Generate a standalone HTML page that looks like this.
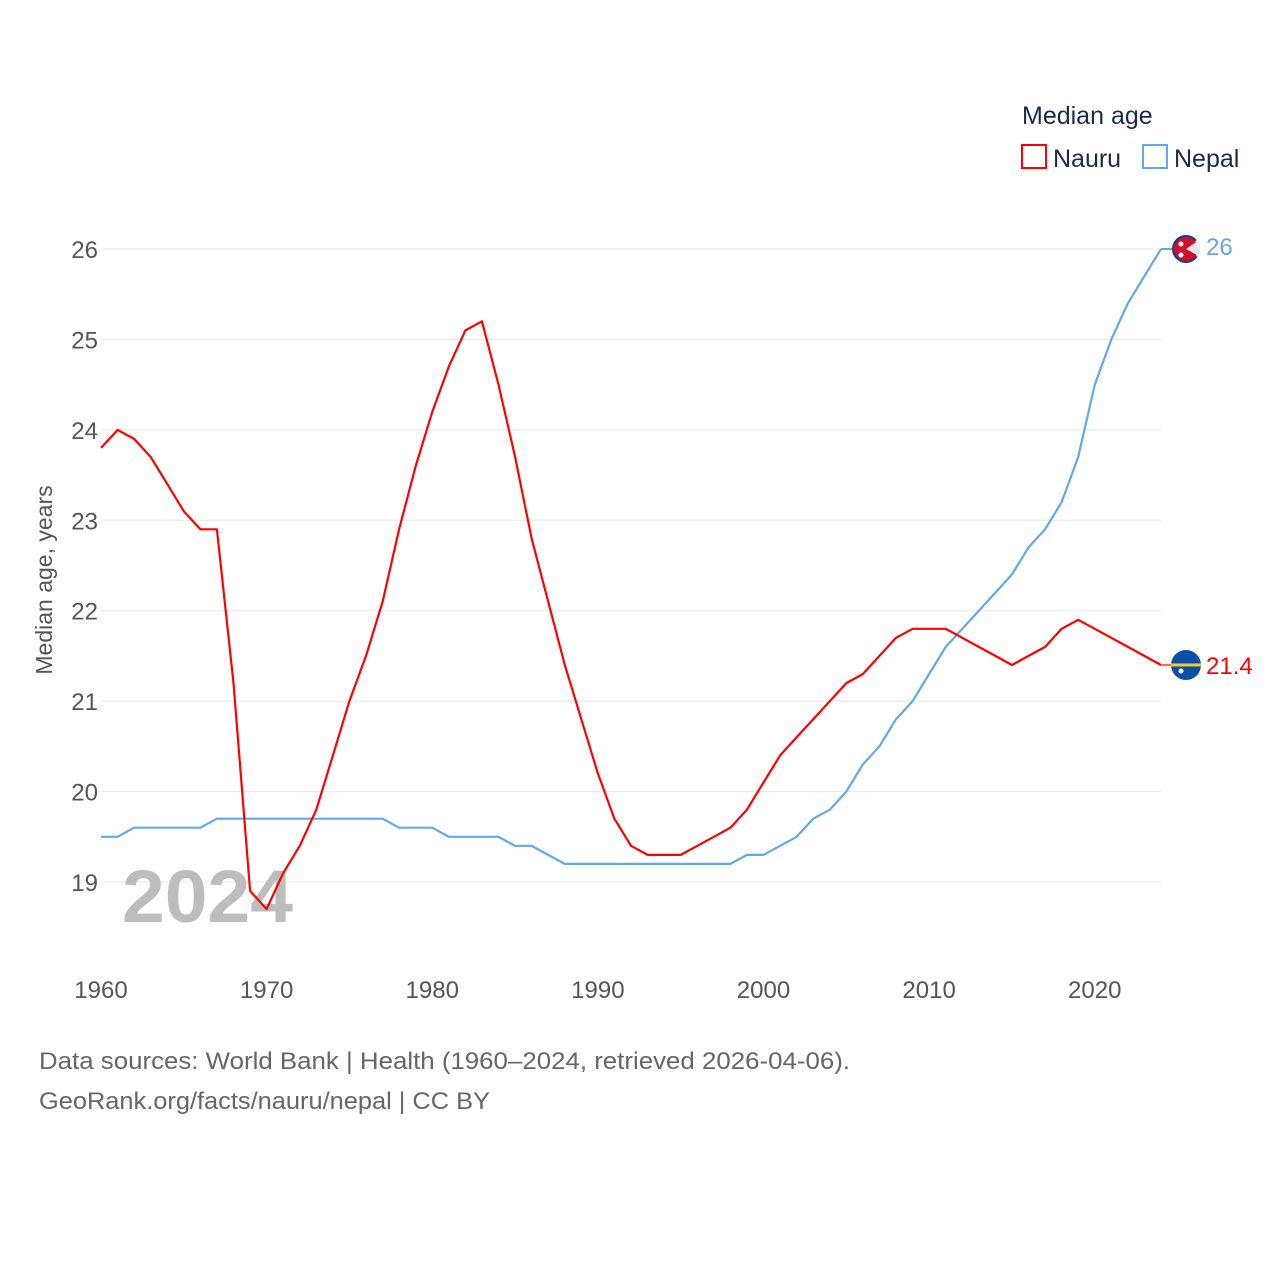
<!DOCTYPE html>
<html><head><meta charset="utf-8"><style>
html,body{margin:0;padding:0;background:#fff;}
svg text{font-family:"Liberation Sans",sans-serif;}
</style></head><body>
<svg id="chart" width="1280" height="1280" xmlns="http://www.w3.org/2000/svg">
<rect width="1280" height="1280" fill="#fff"/>
<g id="grid"></g>
<g id="yticks"></g>
<g id="xticks"></g>
<text transform="translate(52,580) rotate(-90)" text-anchor="middle" font-size="23" fill="#555">Median age, years</text>
<text x="122" y="922" font-size="74" font-weight="bold" fill="#bdbdbd" textLength="171" lengthAdjust="spacingAndGlyphs">2024</text>
<g id="lines"></g>
<g>
<text x="1022" y="124" font-size="25" fill="#1a2a48">Median age</text>
<rect x="1022" y="145" width="24" height="23" fill="none" stroke="#ff0000" stroke-width="2"/>
<text x="1053" y="167" font-size="25" fill="#1a2a48">Nauru</text>
<rect x="1143" y="145" width="24" height="23" fill="none" stroke="#62a8ea" stroke-width="2"/>
<text x="1174" y="167" font-size="25" fill="#1a2a48">Nepal</text>
</g>
<g id="ends"></g>
<text x="39" y="1069" font-size="24" fill="#666" textLength="811" lengthAdjust="spacingAndGlyphs">Data sources: World Bank | Health (1960–2024, retrieved 2026-04-06).</text>
<text x="39" y="1109" font-size="24" fill="#666" textLength="451" lengthAdjust="spacingAndGlyphs">GeoRank.org/facts/nauru/nepal | CC BY</text>
</svg>
<script>
const years = [];
for (let y = 1960; y <= 2024; y++) years.push(y);
const nauru = [23.8,24.0,23.9,23.7,23.4,23.1,22.9,22.9,21.2,18.9,18.7,19.1,19.4,19.8,20.4,21.0,21.5,22.1,22.9,23.6,24.2,24.7,25.1,25.2,24.5,23.7,22.8,22.1,21.4,20.8,20.2,19.7,19.4,19.3,19.3,19.3,19.4,19.5,19.6,19.8,20.1,20.4,20.6,20.8,21.0,21.2,21.3,21.5,21.7,21.8,21.8,21.8,21.7,21.6,21.5,21.4,21.5,21.6,21.8,21.9,21.8,21.7,21.6,21.5,21.4];
const nepal = [19.5,19.5,19.6,19.6,19.6,19.6,19.6,19.7,19.7,19.7,19.7,19.7,19.7,19.7,19.7,19.7,19.7,19.7,19.6,19.6,19.6,19.5,19.5,19.5,19.5,19.4,19.4,19.3,19.2,19.2,19.2,19.2,19.2,19.2,19.2,19.2,19.2,19.2,19.2,19.3,19.3,19.4,19.5,19.7,19.8,20.0,20.3,20.5,20.8,21.0,21.3,21.6,21.8,22.0,22.2,22.4,22.7,22.9,23.2,23.7,24.5,25.0,25.4,25.7,26.0];
const yTicks = [19,20,21,22,23,24,25,26];
const xTicks = [1960,1970,1980,1990,2000,2010,2020];
const endLabels = ["21.4","26"];

const NS = "http://www.w3.org/2000/svg";
const X = y => 101 + (y - 1960) * (1060 / 64);
const Y = v => 882 - (v - 19) * (633 / 7);
function mk(tag, attrs, parent, txt) {
  const e = document.createElementNS(NS, tag);
  for (const k in attrs) e.setAttribute(k, attrs[k]);
  if (txt !== undefined) e.textContent = txt;
  parent.appendChild(e);
  return e;
}
const grid = document.getElementById('grid'), yt = document.getElementById('yticks'), xt = document.getElementById('xticks');
yTicks.forEach(v => {
  const l = mk('line', {x1: 101, x2: 1161, y1: Y(v), y2: Y(v), stroke: '#e8e8e8', 'stroke-width': 1}, grid);
  
  
  const t = mk('text', {x: 98, y: Y(v) + 9, 'text-anchor': 'end', 'font-size': 24, fill: '#555'}, yt, String(v));
  
  
});
xTicks.forEach(v => {
  const t = mk('text', {x: X(v), y: 998, 'text-anchor': 'middle', 'font-size': 24, fill: '#555'}, xt, String(v));
  
  
});
const lines = document.getElementById('lines');
function drawLine(vals, color, name) {
  const d = vals.map((v, i) => (i ? 'L' : 'M') + X(years[i]).toFixed(1) + ',' + Y(v).toFixed(1)).join(' ');
  const p = mk('path', {d: d, fill: 'none', stroke: color, 'stroke-width': 2.2, 'stroke-linejoin': 'round'}, lines);
  
  
}
drawLine(nepal, '#62a8ea', 'line-nepal');
drawLine(nauru, '#ff0000', 'line-nauru');

const ends = document.getElementById('ends');
const lastX = X(years[years.length - 1]);
const ny = Y(nauru[nauru.length - 1]);
const g1 = mk('g', {}, ends);


mk('line', {x1: lastX, x2: lastX + 12, y1: ny, y2: ny, stroke: '#ff6666', 'stroke-width': 2}, g1);
mk('circle', {cx: lastX + 25, cy: ny, r: 15, fill: '#0a4fa8'}, g1);
mk('rect', {x: lastX + 10, y: ny - 1.5, width: 30, height: 3, fill: '#ffc61e'}, g1);
mk('circle', {cx: lastX + 20, cy: ny + 6, r: 2.5, fill: '#fff'}, g1);
const t1 = mk('text', {x: lastX + 45, y: ny + 9, 'font-size': 24, fill: '#ff0000'}, ends, endLabels[0]);


const py = Y(nepal[nepal.length - 1]);
const g2 = mk('g', {}, ends);


mk('line', {x1: lastX, x2: lastX + 12, y1: py, y2: py, stroke: '#62a8ea', 'stroke-width': 2}, g2);
mk('circle', {cx: lastX + 25, cy: py, r: 14, fill: '#e8e8f0'}, g2);
mk('path', {d: `M${lastX+25},${py} L${lastX+25+14*Math.cos(-0.7)},${py+14*Math.sin(-0.7)} A14,14 0 1,0 ${lastX+25+14*Math.cos(0.6)},${py+14*Math.sin(0.6)} Z`, fill: '#1a3a8a'}, g2);
mk('path', {d: `M${lastX+25},${py} L${lastX+25+12*Math.cos(-0.6)},${py+12*Math.sin(-0.6)} A12,12 0 1,0 ${lastX+25+12*Math.cos(0.5)},${py+12*Math.sin(0.5)} Z`, fill: '#d0102a'}, g2);
mk('circle', {cx: lastX + 20, cy: py - 5, r: 2.5, fill: '#fff'}, g2);
mk('circle', {cx: lastX + 20, cy: py + 6, r: 2.5, fill: '#fff'}, g2);
const t2 = mk('text', {x: lastX + 45, y: py + 6, 'font-size': 24, fill: '#62a8ea'}, ends, endLabels[1]);


</script>
</body></html>
